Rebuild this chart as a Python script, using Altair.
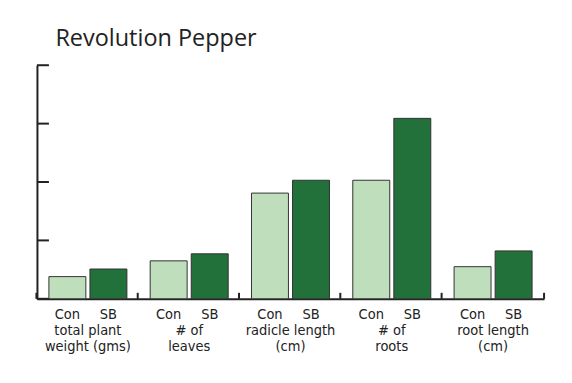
import altair as alt
import pandas as pd

groups = ["g1", "g2", "g3", "g4", "g5"]
group_labels = ["total plant\nweight (gms)", "# of\nleaves", "radicle length\n(cm)", "# of\nroots", "root length\n(cm)"]
treatments = ["Con", "SB"]
con_values = [0.38, 0.65, 1.81, 2.03, 0.55]
sb_values = [0.51, 0.77, 2.03, 3.09, 0.82]
y_ticks = [0, 1, 2, 3, 4]

rows = []
for g, c, s in zip(groups, con_values, sb_values):
    rows.append({"group": g, "treatment": "Con", "value": c})
    rows.append({"group": g, "treatment": "SB", "value": s})
df = pd.DataFrame(rows)
lab_df = pd.DataFrame({"group": groups, "label": group_labels})
tick_df = pd.DataFrame({"v": y_ticks})
last_df = pd.DataFrame({"group": [groups[-1]]})

W, H = 508, 234
FONT = "DejaVu Sans Condensed, Liberation Sans Narrow, sans-serif"
FS = 14.5
xscale = alt.Scale(domain=groups, paddingInner=0.23, paddingOuter=0.118)
yscale = alt.Scale(domain=[0, 4])
xoff = alt.Scale(domain=treatments, paddingInner=0.1, paddingOuter=0)

bars = alt.Chart(df).mark_bar(stroke="#333333", strokeWidth=1).encode(
    x=alt.X("group:N", scale=xscale,
            axis=alt.Axis(title=None, labels=False, ticks=False, domainColor="#222222", domainWidth=2)),
    xOffset=alt.XOffset("treatment:N", scale=xoff),
    y=alt.Y("value:Q", scale=yscale,
            axis=alt.Axis(title=None, labels=False, ticks=False, grid=False, domainColor="#222222", domainWidth=2)),
    color=alt.Color("treatment:N", scale=alt.Scale(domain=treatments, range=["#bfdfbc", "#22703a"]), legend=None),
)

treat_text = alt.Chart(df).mark_text(font=FONT, fontSize=FS, color="#222222", baseline="alphabetic").encode(
    x=alt.X("group:N", scale=xscale),
    xOffset=alt.XOffset("treatment:N", scale=xoff),
    y=alt.value(H + 20),
    text="treatment:N",
)

cat_text = alt.Chart(lab_df).mark_text(font=FONT, fontSize=FS, color="#222222", baseline="alphabetic",
                                       lineBreak="\n", lineHeight=16).encode(
    x=alt.X("group:N", scale=xscale),
    y=alt.value(H + 36),
    text="label:N",
)

y_tick_marks = alt.Chart(tick_df).mark_rule(color="#222222", strokeWidth=2).encode(
    y=alt.Y("v:Q", scale=yscale),
    x=alt.value(0),
    x2=alt.value(12),
)

x_tick_marks = alt.Chart(lab_df).mark_rule(color="#222222", strokeWidth=2, xOffset=-12.5).encode(
    x=alt.X("group:N", scale=xscale, bandPosition=0),
    y=alt.value(H - 6),
    y2=alt.value(H),
)

x_end_tick = alt.Chart(last_df).mark_rule(color="#222222", strokeWidth=2, xOffset=12).encode(
    x=alt.X("group:N", scale=xscale, bandPosition=1),
    y=alt.value(H - 6),
    y2=alt.value(H),
)

chart = alt.layer(bars, y_tick_marks, x_tick_marks, x_end_tick, treat_text, cat_text).properties(
    width=W, height=H,
    title=alt.TitleParams("Revolution Pepper", anchor="start", dx=20, dy=25, offset=20, baseline="alphabetic",
                          font="Open Sans", fontSize=23.5, fontWeight="normal", color="#222222"),
    autosize=alt.AutoSizeParams(type="none"),
    padding={"left": 29, "top": 57, "right": 20, "bottom": 70},
).configure_view(stroke=None)

chart.save("out.html", embed_options={"renderer": "svg", "actions": False})
